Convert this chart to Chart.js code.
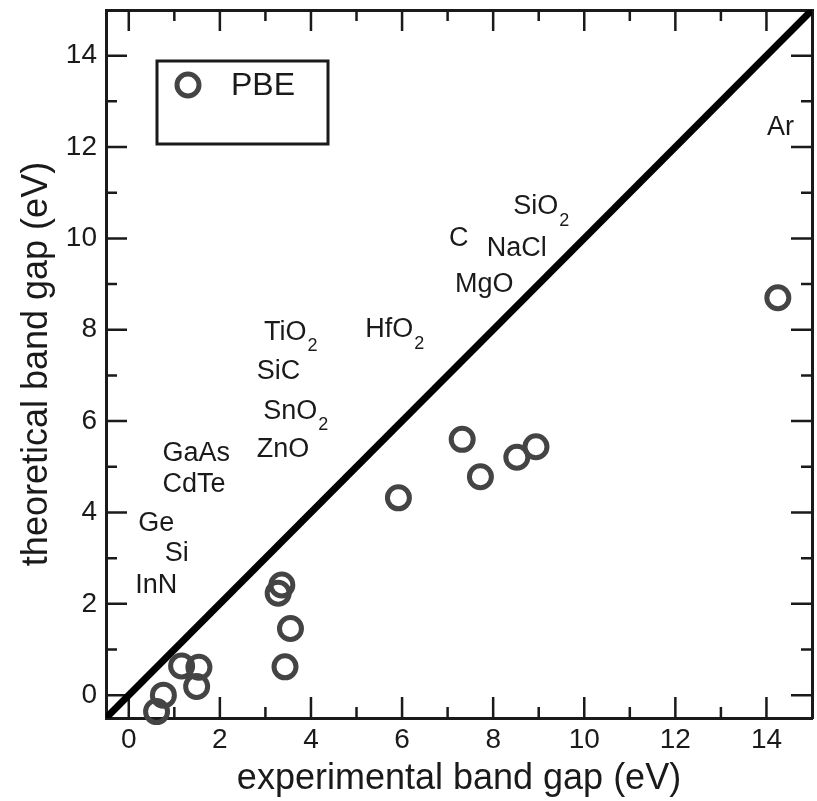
<!DOCTYPE html>
<html>
<head>
<meta charset="utf-8">
<script src="https://cdn.jsdelivr.net/npm/chart.js@4"></script>
<style>
    body { margin: 0; background: #fff; }
    canvas { display: block; }
</style>
</head>
<body>
<canvas id="bandGapChart" width="817" height="801"></canvas>
<script>
// experimental vs PBE band gaps (eV)
const expGap = [14.25, 7.32, 5.92, 7.72, 8.52, 8.94, 3.36, 3.28, 3.55, 3.43, 1.16, 1.54, 1.49, 0.76, 0.61];
const pbeGap = [8.70, 5.60, 4.32, 4.78, 5.21, 5.44, 2.41, 2.23, 1.46, 0.62, 0.64, 0.61, 0.19, 0.00, -0.36];

// y = x reference line
const diagX = [-0.5, 15];
const diagY = [-0.5, 15];

const majorTicks = [0, 2, 4, 6, 8, 10, 12, 14];
const minorTicks = [1, 3, 5, 7, 9, 11, 13];

// material names, anchored in data units (left edge, middle)
const labelNames = ['Ar', 'SiO2', 'C', 'NaCl', 'MgO', 'HfO2', 'TiO2', 'SiC', 'SnO2', 'ZnO', 'GaAs', 'CdTe', 'Ge', 'Si', 'InN'];
const labelX = [14.01, 8.44, 7.03, 7.86, 7.16, 5.19, 2.97, 2.81, 2.95, 2.81, 0.74, 0.74, 0.21, 0.79, 0.14];
const labelY = [12.42, 10.69, 10.0, 9.77, 8.98, 8.0, 7.94, 7.08, 6.22, 5.37, 5.30, 4.60, 3.76, 3.11, 2.41];

const FONT = '"Liberation Sans", Arial, Helvetica, sans-serif';
const INK = '#1a1a1a';
const RING = '#444444';

const setTicks = scale => {
    scale.ticks = majorTicks.map(v => ({ value: v }));
};

// keep chart.js from reserving room for edge labels
const fitX = h => s => { s.height = h; s.paddingLeft = 0; s.paddingRight = 0; };
const fitY = w => s => { s.width = w; s.paddingTop = 0; s.paddingBottom = 0; };

const framePlugin = {
    id: 'frame',
    beforeDatasetsDraw(chart) {
        const { ctx, chartArea: a } = chart;
        const xs = chart.scales.x;
        const ys = chart.scales.y;
        ctx.save();
        ctx.strokeStyle = INK;
        ctx.lineWidth = 2.5;
        const tick = (v, len) => {
            const px = xs.getPixelForValue(v);
            const py = ys.getPixelForValue(v);
            ctx.beginPath();
            ctx.moveTo(px, a.bottom); ctx.lineTo(px, a.bottom - len);
            ctx.moveTo(px, a.top); ctx.lineTo(px, a.top + len);
            ctx.moveTo(a.left, py); ctx.lineTo(a.left + len, py);
            ctx.moveTo(a.right, py); ctx.lineTo(a.right - len, py);
            ctx.stroke();
        };
        majorTicks.forEach(v => tick(v, 21));
        minorTicks.forEach(v => tick(v, 11));
        ctx.restore();
    },
    afterDatasetsDraw(chart) {
        const { ctx, chartArea: a } = chart;
        const xs = chart.scales.x;
        const ys = chart.scales.y;
        ctx.save();
        ctx.fillStyle = INK;
        ctx.textAlign = 'left';
        ctx.textBaseline = 'middle';
        labelNames.forEach((name, i) => {
            const m = name.match(/^(.*?)(\d*)$/);
            const x = xs.getPixelForValue(labelX[i]);
            const y = ys.getPixelForValue(labelY[i]);
            ctx.font = '27px ' + FONT;
            ctx.fillText(m[1], x, y);
            if (m[2]) {
                const w = ctx.measureText(m[1]).width;
                ctx.font = '18px ' + FONT;
                ctx.fillText(m[2], x + w + 1, y + 14);
            }
        });

        // legend box
        const bx = a.left + 51, by = a.top + 51;
        ctx.strokeStyle = INK;
        ctx.lineWidth = 3;
        ctx.strokeRect(bx, by, 171, 83);
        ctx.strokeStyle = RING;
        ctx.lineWidth = 5;
        ctx.beginPath();
        ctx.arc(bx + 31, by + 24, 11, 0, Math.PI * 2);
        ctx.stroke();
        ctx.font = '32px ' + FONT;
        ctx.fillStyle = INK;
        ctx.fillText(chart.data.datasets[0].label, bx + 74, by + 25);
        ctx.restore();
    }
};

const ctx = document.getElementById('bandGapChart').getContext('2d');

new Chart(ctx, {
    type: 'scatter',
    data: {
        datasets: [{
            label: 'PBE',
            data: expGap.map((x, i) => ({ x: x, y: pbeGap[i] })),
            borderColor: RING,
            backgroundColor: 'rgba(0,0,0,0)',
            borderWidth: 5,
            pointRadius: 11,
            pointHoverRadius: 11,
            clip: false,
            order: 1
        }, {
            type: 'line',
            label: 'y = x',
            data: diagX.map((x, i) => ({ x: x, y: diagY[i] })),
            borderColor: '#000',
            borderWidth: 7,
            pointRadius: 0,
            fill: false,
            order: 2
        }]
    },
    options: {
        responsive: false,
        animation: false,
        layout: { autoPadding: false, padding: { left: 0, top: 10, right: 5, bottom: 0 } },
        plugins: {
            legend: { display: false },
            tooltip: { enabled: false }
        },
        scales: {
            x: {
                type: 'linear',
                position: 'bottom',
                min: -0.5,
                max: 15,
                afterBuildTicks: setTicks,
                afterFit: fitX(83),
                ticks: { font: { family: FONT, size: 28 }, color: INK, padding: 5 },
                grid: { display: false, drawTicks: false },
                border: { display: true, width: 3, color: INK },
                title: {
                    display: true,
                    text: 'experimental band gap (eV)',
                    font: { family: FONT, size: 36 },
                    color: INK,
                    padding: { top: 0, bottom: 0 }
                }
            },
            y: {
                type: 'linear',
                position: 'left',
                min: -0.5,
                max: 15,
                afterBuildTicks: setTicks,
                afterFit: fitY(106),
                ticks: { font: { family: FONT, size: 28 }, color: INK, padding: 9 },
                grid: { display: false, drawTicks: false },
                border: { display: true, width: 3, color: INK },
                title: {
                    display: true,
                    text: 'theoretical band gap (eV)',
                    font: { family: FONT, size: 36 },
                    color: INK,
                    padding: { top: 15, bottom: 0 }
                }
            },
            x2: {
                type: 'linear',
                position: 'top',
                min: -0.5,
                max: 15,
                afterFit: fitX(0),
                ticks: { display: false },
                grid: { display: false, drawTicks: false },
                border: { display: true, width: 3, color: INK }
            },
            y2: {
                type: 'linear',
                position: 'right',
                min: -0.5,
                max: 15,
                afterFit: fitY(0),
                ticks: { display: false },
                grid: { display: false, drawTicks: false },
                border: { display: true, width: 3, color: INK }
            }
        }
    },
    plugins: [framePlugin]
});
</script>
</body>
</html>
